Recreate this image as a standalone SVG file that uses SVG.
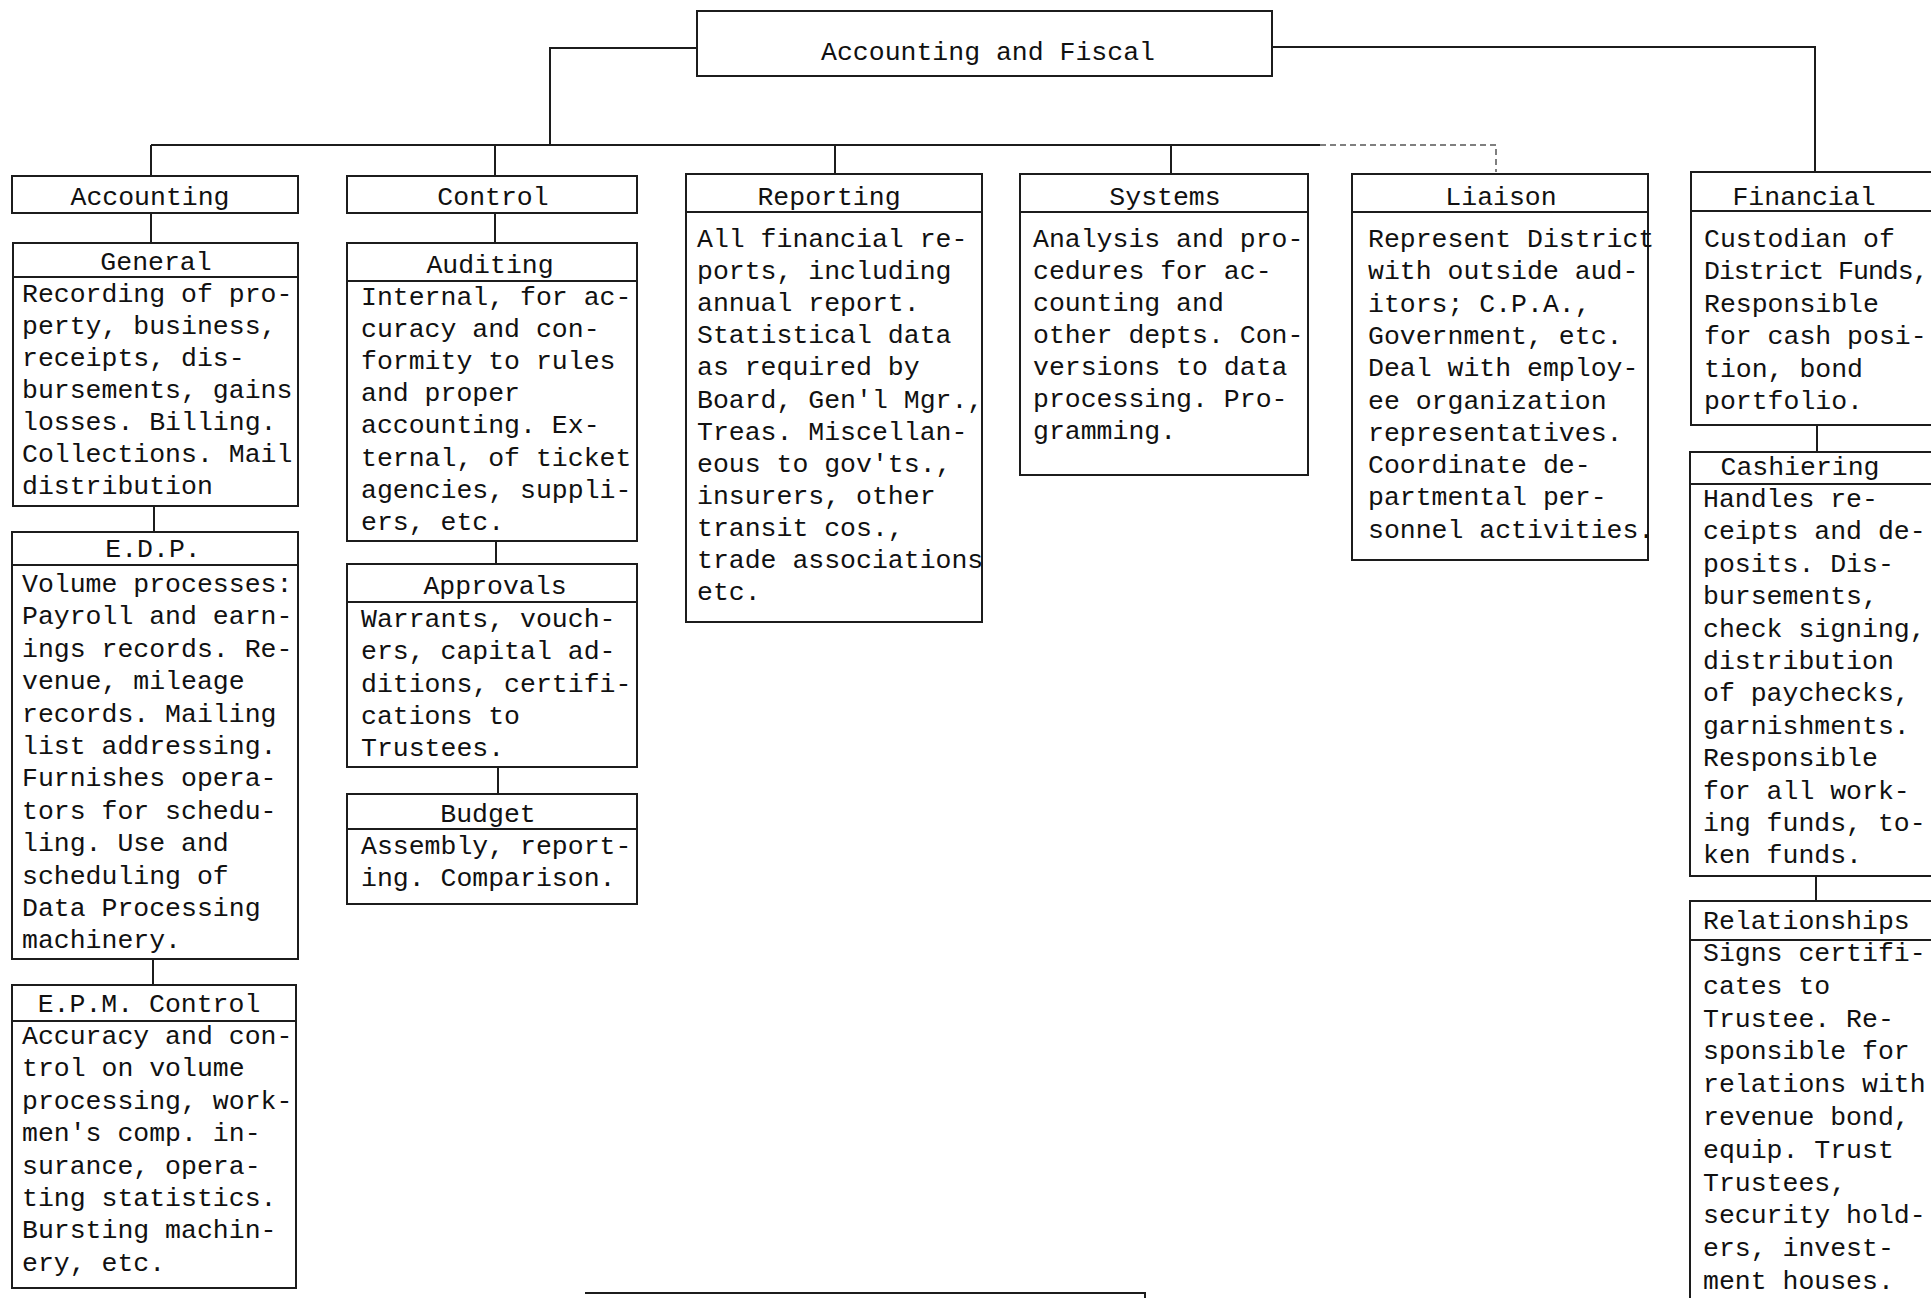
<svg xmlns="http://www.w3.org/2000/svg" width="1931" height="1298" viewBox="0 0 1931 1298">
  <style>
    .bg { fill: #ffffff; }
    .box { fill: none; stroke: #1c1c1c; stroke-width: 2; }
    .div { stroke: #1c1c1c; stroke-width: 2; }
    .wire { fill: none; stroke: #1c1c1c; stroke-width: 2; }
    .faint { fill: none; stroke: #555; stroke-width: 1.5; stroke-dasharray: 6 4; }
    .t { font-family: "Liberation Mono", "Courier New", monospace; font-size: 26.5px; fill: #111; }
    .h { text-anchor: middle; }
  </style>
  <rect class="bg" x="0" y="0" width="1931" height="1298"/>

  <!-- connectors -->
  <g id="connectors">
    <path class="wire" d="M697 48 H550 V145"/>
    <path class="wire" d="M151 145 H1320"/>
    <path class="faint" d="M1320 145 H1496 V172"/>
    <path class="wire" d="M151 145 V176 M495 145 V176 M835 145 V174 M1171 145 V174"/>
    <path class="wire" d="M1272 47 H1815 V172"/>
    <path class="wire" d="M151 213 V243 M154 506 V532 M153 959 V985"/>
    <path class="wire" d="M495 213 V243 M496 541 V564 M498 767 V794"/>
    <path class="wire" d="M1817 425 V452 M1816 876 V901"/>
    <path class="wire" d="M585 1293 H1145 V1298"/>
  </g>

  <!-- top -->
  <g id="node-accounting-fiscal">
    <rect class="box" x="697" y="11" width="575" height="65"/>
    <text class="t h" x="988" y="60">Accounting and Fiscal</text>
  </g>

  <!-- Accounting column -->
  <g id="node-accounting">
    <rect class="box" x="12" y="176" width="286" height="37"/>
    <text class="t h" x="150" y="205">Accounting</text>
  </g>
  <g id="node-general">
    <rect class="box" x="13" y="243" width="285" height="263"/>
    <line class="div" x1="13" y1="277" x2="298" y2="277"/>
    <text class="t h" x="156" y="270">General</text>
    <text class="t" x="22" y="302">Recording of pro-<tspan x="22" dy="32">perty, business,</tspan><tspan x="22" dy="32">receipts, dis-</tspan><tspan x="22" dy="32">bursements, gains</tspan><tspan x="22" dy="32">losses. Billing.</tspan><tspan x="22" dy="32">Collections. Mail</tspan><tspan x="22" dy="32">distribution</tspan></text>
  </g>
  <g id="node-edp">
    <rect class="box" x="12" y="532" width="286" height="427"/>
    <line class="div" x1="12" y1="565" x2="298" y2="565"/>
    <text class="t h" x="153" y="557">E.D.P.</text>
    <text class="t" x="22" y="592">Volume processes:<tspan x="22" dy="32.4">Payroll and earn-</tspan><tspan x="22" dy="32.4">ings records. Re-</tspan><tspan x="22" dy="32.4">venue, mileage</tspan><tspan x="22" dy="32.4">records. Mailing</tspan><tspan x="22" dy="32.4">list addressing.</tspan><tspan x="22" dy="32.4">Furnishes opera-</tspan><tspan x="22" dy="32.4">tors for schedu-</tspan><tspan x="22" dy="32.4">ling. Use and</tspan><tspan x="22" dy="32.4">scheduling of</tspan><tspan x="22" dy="32.4">Data Processing</tspan><tspan x="22" dy="32.4">machinery.</tspan></text>
  </g>
  <g id="node-epm-control">
    <rect class="box" x="12" y="985" width="284" height="303"/>
    <line class="div" x1="12" y1="1021" x2="296" y2="1021"/>
    <text class="t h" x="149" y="1012">E.P.M. Control</text>
    <text class="t" x="22" y="1044">Accuracy and con-<tspan x="22" dy="32.4">trol on volume</tspan><tspan x="22" dy="32.4">processing, work-</tspan><tspan x="22" dy="32.4">men's comp. in-</tspan><tspan x="22" dy="32.4">surance, opera-</tspan><tspan x="22" dy="32.4">ting statistics.</tspan><tspan x="22" dy="32.4">Bursting machin-</tspan><tspan x="22" dy="32.4">ery, etc.</tspan></text>
  </g>

  <!-- Control column -->
  <g id="node-control">
    <rect class="box" x="347" y="176" width="290" height="37"/>
    <text class="t h" x="493" y="205">Control</text>
  </g>
  <g id="node-auditing">
    <rect class="box" x="347" y="243" width="290" height="298"/>
    <line class="div" x1="347" y1="281" x2="637" y2="281"/>
    <text class="t h" x="490" y="273">Auditing</text>
    <text class="t" x="361" y="305">Internal, for ac-<tspan x="361" dy="32.1">curacy and con-</tspan><tspan x="361" dy="32.1">formity to rules</tspan><tspan x="361" dy="32.1">and proper</tspan><tspan x="361" dy="32.1">accounting. Ex-</tspan><tspan x="361" dy="32.1">ternal, of ticket</tspan><tspan x="361" dy="32.1">agencies, suppli-</tspan><tspan x="361" dy="32.1">ers, etc.</tspan></text>
  </g>
  <g id="node-approvals">
    <rect class="box" x="347" y="564" width="290" height="203"/>
    <line class="div" x1="347" y1="602" x2="637" y2="602"/>
    <text class="t h" x="495" y="594">Approvals</text>
    <text class="t" x="361" y="627">Warrants, vouch-<tspan x="361" dy="32.3">ers, capital ad-</tspan><tspan x="361" dy="32.3">ditions, certifi-</tspan><tspan x="361" dy="32.3">cations to</tspan><tspan x="361" dy="32.3">Trustees.</tspan></text>
  </g>
  <g id="node-budget">
    <rect class="box" x="347" y="794" width="290" height="110"/>
    <line class="div" x1="347" y1="829" x2="637" y2="829"/>
    <text class="t h" x="488" y="822">Budget</text>
    <text class="t" x="361" y="854">Assembly, report-<tspan x="361" dy="32">ing. Comparison.</tspan></text>
  </g>

  <!-- Reporting -->
  <g id="node-reporting">
    <rect class="box" x="686" y="174" width="296" height="448"/>
    <line class="div" x1="686" y1="212" x2="982" y2="212"/>
    <text class="t h" x="829" y="205">Reporting</text>
    <text class="t" x="697" y="247">All financial re-<tspan x="697" dy="32.1">ports, including</tspan><tspan x="697" dy="32.1">annual report.</tspan><tspan x="697" dy="32.1">Statistical data</tspan><tspan x="697" dy="32.1">as required by</tspan><tspan x="697" dy="32.1">Board, Gen'l Mgr.,</tspan><tspan x="697" dy="32.1">Treas. Miscellan-</tspan><tspan x="697" dy="32.1">eous to gov'ts.,</tspan><tspan x="697" dy="32.1">insurers, other</tspan><tspan x="697" dy="32.1">transit cos.,</tspan><tspan x="697" dy="32.1">trade associations</tspan><tspan x="697" dy="32.1">etc.</tspan></text>
  </g>

  <!-- Systems -->
  <g id="node-systems">
    <rect class="box" x="1020" y="174" width="288" height="301"/>
    <line class="div" x1="1020" y1="212" x2="1308" y2="212"/>
    <text class="t h" x="1165" y="205">Systems</text>
    <text class="t" x="1033" y="247">Analysis and pro-<tspan x="1033" dy="32">cedures for ac-</tspan><tspan x="1033" dy="32">counting and</tspan><tspan x="1033" dy="32">other depts. Con-</tspan><tspan x="1033" dy="32">versions to data</tspan><tspan x="1033" dy="32">processing. Pro-</tspan><tspan x="1033" dy="32">gramming.</tspan></text>
  </g>

  <!-- Liaison -->
  <g id="node-liaison">
    <rect class="box" x="1352" y="174" width="296" height="386"/>
    <line class="div" x1="1352" y1="212" x2="1648" y2="212"/>
    <text class="t h" x="1501" y="205">Liaison</text>
    <text class="t" x="1368" y="247">Represent District<tspan x="1368" dy="32.3">with outside aud-</tspan><tspan x="1368" dy="32.3">itors; C.P.A.,</tspan><tspan x="1368" dy="32.3">Government, etc.</tspan><tspan x="1368" dy="32.3">Deal with employ-</tspan><tspan x="1368" dy="32.3">ee organization</tspan><tspan x="1368" dy="32.3">representatives.</tspan><tspan x="1368" dy="32.3">Coordinate de-</tspan><tspan x="1368" dy="32.3">partmental per-</tspan><tspan x="1368" dy="32.3">sonnel activities.</tspan></text>
  </g>

  <!-- Financial column -->
  <g id="node-financial">
    <rect class="box" x="1691" y="172" width="250" height="253"/>
    <line class="div" x1="1691" y1="211" x2="1941" y2="211"/>
    <text class="t h" x="1804" y="205">Financial</text>
    <text class="t" x="1704" y="247">Custodian of<tspan x="1704" dy="32.4" letter-spacing="-1">District Funds,</tspan><tspan x="1704" dy="32.4">Responsible</tspan><tspan x="1704" dy="32.4">for cash posi-</tspan><tspan x="1704" dy="32.4">tion, bond</tspan><tspan x="1704" dy="32.4">portfolio.</tspan></text>
  </g>
  <g id="node-cashiering">
    <rect class="box" x="1690" y="452" width="251" height="424"/>
    <line class="div" x1="1690" y1="484" x2="1941" y2="484"/>
    <text class="t h" x="1800" y="475">Cashiering</text>
    <text class="t" x="1703" y="507">Handles re-<tspan x="1703" dy="32.4">ceipts and de-</tspan><tspan x="1703" dy="32.4">posits. Dis-</tspan><tspan x="1703" dy="32.4">bursements,</tspan><tspan x="1703" dy="32.4">check signing,</tspan><tspan x="1703" dy="32.4">distribution</tspan><tspan x="1703" dy="32.4">of paychecks,</tspan><tspan x="1703" dy="32.4">garnishments.</tspan><tspan x="1703" dy="32.4">Responsible</tspan><tspan x="1703" dy="32.4">for all work-</tspan><tspan x="1703" dy="32.4">ing funds, to-</tspan><tspan x="1703" dy="32.4">ken funds.</tspan></text>
  </g>
  <g id="node-relationships">
    <rect class="box" x="1690" y="901" width="251" height="420"/>
    <line class="div" x1="1690" y1="940" x2="1941" y2="940"/>
    <text class="t" x="1703" y="929">Relationships</text>
    <text class="t" x="1703" y="961">Signs certifi-<tspan x="1703" dy="32.8">cates to</tspan><tspan x="1703" dy="32.8">Trustee. Re-</tspan><tspan x="1703" dy="32.8">sponsible for</tspan><tspan x="1703" dy="32.8">relations with</tspan><tspan x="1703" dy="32.8">revenue bond,</tspan><tspan x="1703" dy="32.8">equip. Trust</tspan><tspan x="1703" dy="32.8">Trustees,</tspan><tspan x="1703" dy="32.8">security hold-</tspan><tspan x="1703" dy="32.8">ers, invest-</tspan><tspan x="1703" dy="32.8">ment houses.</tspan></text>
  </g>
</svg>
